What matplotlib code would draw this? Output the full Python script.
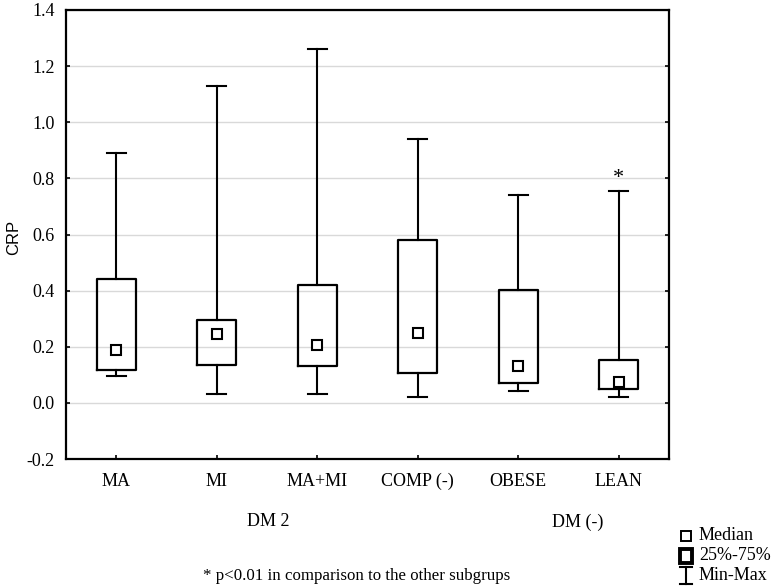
import matplotlib.pyplot as plt
from matplotlib.lines import Line2D
from matplotlib.patches import Rectangle

# ------------------------------------------------------------
# data: CRP per subgroup
# ------------------------------------------------------------
groups  = ["MA", "MI", "MA+MI", "COMP (-)", "OBESE", "LEAN"]
mins    = [0.094, 0.033, 0.033, 0.022, 0.044, 0.021]
q1s     = [0.116, 0.136, 0.131, 0.105, 0.071, 0.048]
medians = [0.188, 0.244, 0.205, 0.250, 0.130, 0.075]
q3s     = [0.440, 0.295, 0.420, 0.580, 0.404, 0.152]
maxs    = [0.890, 1.130, 1.260, 0.940, 0.742, 0.756]

yticks = [-0.2, 0.0, 0.2, 0.4, 0.6, 0.8, 1.0, 1.2, 1.4]

plt.rcParams['axes.unicode_minus'] = False
serif = ['Liberation Serif', 'DejaVu Serif']
fs = 13

W, H = 775, 587
fig = plt.figure(figsize=(W / 100, H / 100), dpi=100)

# axes frame in pixels: left 66, right 669, top 10, bottom 459
L, R, T, B = 66, 669, 10, 459
ax = fig.add_axes([L / W, 1 - B / H, (R - L) / W, (B - T) / H])

stats = []
for i, g in enumerate(groups):
    stats.append(dict(label=g, whislo=mins[i], q1=q1s[i], med=medians[i],
                      q3=q3s[i], whishi=maxs[i], fliers=[]))

pos = list(range(len(groups)))
ax.bxp(stats, positions=pos, widths=0.39, capwidths=0.19,
       boxprops=dict(color='black', lw=1.6),
       whiskerprops=dict(color='black', lw=1.5),
       capprops=dict(color='black', lw=1.5),
       medianprops=dict(visible=False),
       showfliers=False)

# median markers
ax.plot(pos, medians, 's', ms=7, mfc='white', mec='black', mew=1.5,
        ls='none', zorder=5)

# significance star above LEAN
ax.text(5, 0.80, '*', ha='center', va='center', fontsize=16,
        family=serif)

ax.set_xlim(-0.5, 5.5)
ax.set_ylim(-0.2, 1.4)
ax.set_yticks(yticks)
ax.set_yticklabels([f"{v:.1f}" for v in yticks])
ax.set_xticks(pos)
ax.set_xticklabels(groups)
ax.yaxis.grid(True, color='#d9d9d9', lw=1.0)
ax.set_axisbelow(True)

for s in ax.spines.values():
    s.set_linewidth(1.6)

ax.tick_params(axis='both', direction='in', length=3, width=1.2,
               labelsize=fs)
ax.tick_params(axis='y', right=True, pad=8)
ax.tick_params(axis='x', pad=10)
for lab in ax.get_xticklabels() + ax.get_yticklabels():
    lab.set_family(serif)

# group annotations and footnote (figure pixel coords)
def fx(x): return x / W
def fy(y): return 1 - y / H

fig.text(fx(14), fy(237), "CRP", rotation=90, ha='center', va='center',
         fontsize=12, family=['Liberation Sans', 'DejaVu Sans'])

fig.text(fx(268), fy(521), "DM 2", ha='center', va='center',
         fontsize=fs, family=serif)
fig.text(fx(578), fy(522), "DM (-)", ha='center', va='center',
         fontsize=fs, family=serif)
fig.text(fx(203), fy(576), "* p<0.01 in comparison to the other subgrups",
         ha='left', va='center', fontsize=12.2, family=serif)

# legend drawn by hand
sx = 686
fig.add_artist(Line2D([fx(sx)], [fy(536)], marker='s', ms=6.5, mfc='white',
                      mec='black', mew=1.4, ls='none'))
fig.add_artist(Rectangle((fx(sx - 6), fy(563)), 12 / W, 14 / H,
                         transform=fig.transFigure, fc='white', ec='black',
                         lw=2.8))
fig.add_artist(Line2D([fx(sx), fx(sx)], [fy(567), fy(584)], color='black',
                      lw=1.5))
fig.add_artist(Line2D([fx(sx - 6), fx(sx + 6)], [fy(567), fy(567)],
                      color='black', lw=1.5))
fig.add_artist(Line2D([fx(sx - 6), fx(sx + 6)], [fy(584), fy(584)],
                      color='black', lw=1.5))
for y, t in [(536, "Median"), (556, "25%-75%"), (576, "Min-Max")]:
    fig.text(fx(699), fy(y), t, ha='left', va='center', fontsize=fs,
             family=serif)

fig.savefig("out.png", dpi=100)
